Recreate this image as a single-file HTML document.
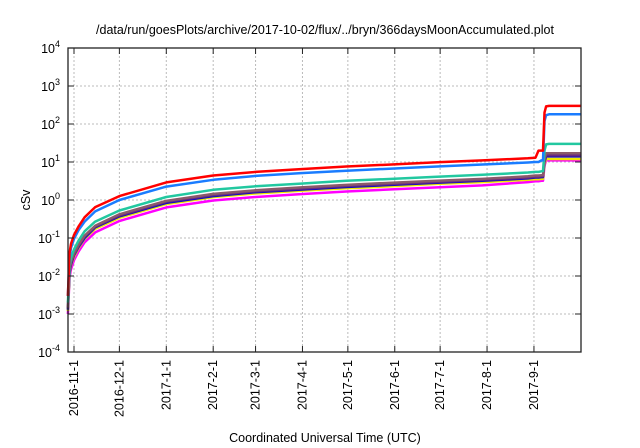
<!DOCTYPE html>
<html><head><meta charset="utf-8"><style>
body{margin:0;background:#fff;}
svg{display:block;font-family:"Liberation Sans",sans-serif;}
</style></head><body>
<svg id="chart" width="640" height="448">
<text x="325" y="34" font-size="12.5" text-anchor="middle">/data/run/goesPlots/archive/2017-10-02/flux/../bryn/366daysMoonAccumulated.plot</text>
<text x="30" y="200" font-size="12.5" text-anchor="middle" transform="rotate(-90 30 200)">cSv</text>
<text x="325" y="442" font-size="12.5" text-anchor="middle">Coordinated Universal Time (UTC)</text>
<g id="grid"></g><g id="series"></g><g id="axes"></g>
</svg>
<script>
const xTickLabels=["2016-11-1","2016-12-1","2017-1-1","2017-2-1","2017-3-1","2017-4-1","2017-5-1","2017-6-1","2017-7-1","2017-8-1","2017-9-1"];
const xTickDays=[0,30,61,92,120,151,181,212,242,273,304];
const yExps=[-4,-3,-2,-1,0,1,2,3,4];
const days=[-4,-3,-2,0,3,7,14,30,61,92,120,150,180,210,240,270,300,305,307,309,310,311,312,314,335];
const seriesNames=["red","blue","green","brown","purple","navy","yellow","magenta"];
const seriesColors=["#ff0000","#1a7cff","#22c8a0","#8a5a6a","#6a2a80","#1010c0","#f0e800","#ff00ff"];
const sRed=[0.003,0.04,0.07,0.12,0.2,0.35,0.65,1.27,2.9,4.4,5.5,6.5,7.6,8.6,9.8,11,12.5,13,20,20,20,200,290,300,300];
const sBlue=[0.003,0.03,0.055,0.095,0.16,0.27,0.5,1.0,2.25,3.4,4.3,5.1,5.9,6.7,7.6,8.6,9.7,10,10,11,11,120,170,180,180];
const sGreen=[0.002,0.018,0.03,0.05,0.085,0.15,0.27,0.53,1.2,1.85,2.3,2.7,3.2,3.6,4.1,4.6,5.3,5.5,5.5,5.7,5.8,20,29,30,30];
const sBrown=[0.0015,0.014,0.024,0.04,0.066,0.115,0.21,0.42,0.95,1.45,1.8,2.15,2.5,2.85,3.2,3.6,4.2,4.4,4.4,4.5,4.5,12,17,17,17];
const sPurple=[0.0014,0.013,0.022,0.037,0.062,0.11,0.2,0.39,0.9,1.35,1.7,2.0,2.35,2.65,3.0,3.4,3.9,4.1,4.1,4.2,4.2,11,15,15,15];
const sNavy=[0.0013,0.012,0.02,0.035,0.058,0.1,0.19,0.37,0.84,1.27,1.6,1.88,2.2,2.5,2.85,3.2,3.7,3.9,3.9,4.0,4.0,10,14,14,14];
const sYellow=[0.0012,0.011,0.019,0.032,0.054,0.095,0.175,0.34,0.78,1.19,1.48,1.75,2.05,2.3,2.65,2.95,3.4,3.5,3.5,3.6,3.6,9,12,12,12];
const sMagenta=[0.001,0.009,0.015,0.026,0.044,0.077,0.14,0.28,0.64,0.97,1.2,1.43,1.67,1.9,2.15,2.42,2.95,3.1,3.1,3.2,3.2,8,11,11,11];
const allSeries=[sRed,sBlue,sGreen,sBrown,sPurple,sNavy,sYellow,sMagenta];
const L=68,R=581,T=48,B=352,X0=74,PXD=1.513;
const xs=d=>Math.min(R,X0+d*PXD);
const ys=v=>200-38*Math.log10(v);
const NS="http://www.w3.org/2000/svg";
function mk(t,a,p){const e=document.createElementNS(NS,t);for(const k in a)e.setAttribute(k,a[k]);p.appendChild(e);return e;}
const grid=document.getElementById('grid'),axes=document.getElementById('axes'),ser=document.getElementById('series');
yExps.forEach(ex=>{
  const y=ys(Math.pow(10,ex));
  if(ex>-4&&ex<4){const g=mk('line',{x1:L,x2:R,y1:y,y2:y,stroke:'#bbb','stroke-dasharray':'2,2','stroke-width':1},grid);
  
  }
  mk('line',{x1:L,x2:L+6,y1:y,y2:y,stroke:'#222'},axes);
  mk('line',{x1:R-6,x2:R,y1:y,y2:y,stroke:'#222'},axes);
  const t=mk('text',{x:L-8,y:y+5,'font-size':12.5,'text-anchor':'end'},axes);
  
  
  t.textContent='10';
  const s=mk('tspan',{dy:-6,'font-size':9},t);s.textContent=String(ex);
});
xTickDays.forEach((d,i)=>{
  const x=xs(d);
  const g=mk('line',{x1:x,x2:x,y1:T,y2:B,stroke:'#bbb','stroke-dasharray':'2,2','stroke-width':1},grid);
  
  
  mk('line',{x1:x,x2:x,y1:B,y2:B-6,stroke:'#222'},axes);
  mk('line',{x1:x,x2:x,y1:T,y2:T+6,stroke:'#222'},axes);
  const t=mk('text',{x:x+4,y:360,'font-size':12.5,'text-anchor':'end',transform:`rotate(-90 ${x+4} 360)`},axes);
  
  
  t.textContent=xTickLabels[i];
});
const fr=mk('rect',{x:L,y:T,width:R-L,height:B-T,fill:'none',stroke:'#222','stroke-width':1.3},axes);


for(let i=allSeries.length-1;i>=0;i--){
  const vals=allSeries[i];
  const p=mk('polyline',{points:days.map((d,j)=>xs(d).toFixed(1)+','+ys(vals[j]).toFixed(1)).join(' '),fill:'none',stroke:seriesColors[i],'stroke-width':2.5,'stroke-linejoin':'round'},ser);
  
  
}
</script>
</body></html>
